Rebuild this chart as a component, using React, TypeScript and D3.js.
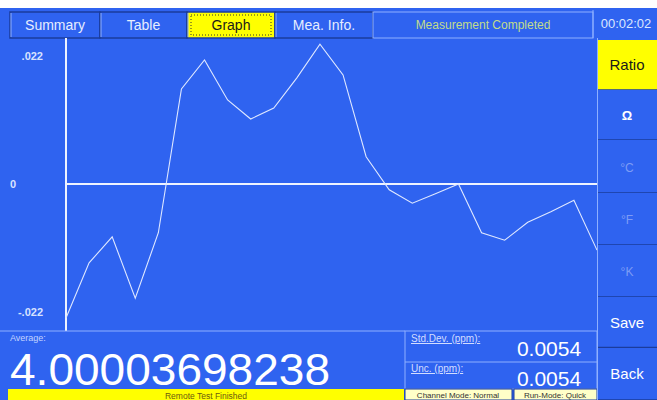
import React from 'react'
import * as d3 from 'd3'

// readings shown on the graph tab (ppm deviation, 24 samples)
const samples = [
  -0.0231, -0.0136, -0.0091, -0.0197, -0.0084, 0.0164, 0.0214, 0.0145,
  0.0112, 0.0131, 0.0183, 0.0241, 0.0188, 0.0047, -0.001, -0.0033,
  -0.0017, 0.0, -0.0084, -0.0097, -0.0066, -0.0048, -0.0028, -0.0114,
]
const tickValues = [0.022, 0, -0.022]
const tickLabels = ['.022', '0', '-.022']

const tabs = ['Summary', 'Table', 'Graph', 'Mea. Info.']
const tabEdges = [10, 100, 187, 275, 373]
const sideButtons = ['Ratio', 'Ω', '°C', '°F', '°K', 'Save', 'Back']
const sideEdges = [40, 90, 140, 193, 245, 297, 348, 400]
const sideEnabled = [true, true, false, false, false, true, true]

const averageText = '4.00003698238'
const stdDevText = '0.0054'
const uncText = '0.0054'

const BLUE = '#2f63f0'
const DARK = '#1b3c9c'
const LIGHT = '#8fb0ff'
const FONT = '"Liberation Sans", Arial, sans-serif'

const App = () => {
  const W = 657
  const H = 400
  const plot = { left: 66, right: 597, top: 39, bottom: 329 }

  const x = d3.scaleLinear().domain([0, samples.length - 1]).range([plot.left, plot.right])
  const y = d3.scaleLinear().domain([-0.025, 0.025]).range([plot.bottom, plot.top])
  const line = d3
    .line<number>()
    .x((_, i) => x(i))
    .y((d) => y(d))

  return (
    <svg
      width={W}
      height={H}
      style={{ position: 'absolute', left: 0, top: 0, display: 'block' }}
      fontFamily={FONT}
    >
      <rect x={0} y={0} width={W} height={H} fill="#ffffff" />
      <rect x={0} y={8} width={W} height={H - 8} fill={BLUE} />

      {/* top tab row */}
      {tabs.map((t, i) => {
        const x0 = tabEdges[i]
        const x1 = tabEdges[i + 1]
        const active = t === 'Graph'
        return (
          <g key={t}>
            <rect x={x0} y={12} width={x1 - x0} height={26} fill={active ? '#ffff00' : BLUE} stroke={DARK} strokeWidth={1.5} />
            <line x1={x0 + 1} x2={x0 + 1} y1={13} y2={37} stroke={LIGHT} strokeWidth={1} />
            {active && (
              <rect x={x0 + 4} y={15} width={x1 - x0 - 8} height={20} fill="none" stroke="#333" strokeWidth={1} strokeDasharray="1,2" />
            )}
            <text x={(x0 + x1) / 2} y={30} textAnchor="middle" fontSize={14} fill={active ? '#1a1a1a' : '#e6edff'}>
              {t}
            </text>
          </g>
        )
      })}
      <rect x={373} y={12} width={220} height={26} fill={BLUE} stroke={LIGHT} strokeWidth={1} />
      <text x={483} y={29} textAnchor="middle" fontSize={12} fill="#c2dc8a">
        Measurement Completed
      </text>
      <text x={626} y={28} textAnchor="middle" fontSize={13} fill="#dbe6ff">
        00:02:02
      </text>
      <line x1={593} x2={593} y1={10} y2={38} stroke={LIGHT} strokeWidth={1} />

      {/* graph */}
      <line x1={plot.left} x2={plot.left} y1={38} y2={331} stroke="#eef3ff" strokeWidth={2} />
      <line x1={plot.left} x2={plot.right} y1={y(0)} y2={y(0)} stroke="#eef3ff" strokeWidth={2} />
      {tickValues.map((v, i) => (
        <text
          key={i}
          x={v === 0 ? 10 : 43}
          y={y(v) + 4}
          textAnchor={v === 0 ? 'start' : 'end'}
          fontSize={11}
          fontWeight="bold"
          fill="#d8e2ff"
        >
          {tickLabels[i]}
        </text>
      ))}
      <path d={line(samples) || ''} fill="none" stroke="#dfe8ff" strokeWidth={1.1} />

      {/* average panel */}
      <line x1={0} x2={405} y1={331} y2={331} stroke={LIGHT} strokeWidth={1} />
      <text x={10} y={341} fontSize={9} fill="#c4d3ff">
        Average:
      </text>
      <text x={10} y={385} fontSize={44} fill="#ffffff" textLength={320} lengthAdjust="spacingAndGlyphs">
        {averageText}
      </text>
      <rect x={8} y={389} width={396} height={11} fill="#ffff00" />
      <text x={206} y={398.5} textAnchor="middle" fontSize={8.5} fill="#6b5a10">
        Remote Test Finished
      </text>

      {/* std dev / unc */}
      <rect x={405} y={331} width={192} height={58} fill={BLUE} stroke={LIGHT} strokeWidth={1} />
      <line x1={405} x2={597} y1={362} y2={362} stroke={LIGHT} strokeWidth={1} />
      <text x={411} y={342} fontSize={10} fill="#d3ddff" textDecoration="underline">
        Std.Dev. (ppm):
      </text>
      <text x={549} y={356} textAnchor="middle" fontSize={21} fill="#ffffff">
        {stdDevText}
      </text>
      <text x={411} y={372} fontSize={10} fill="#d3ddff" textDecoration="underline">
        Unc. (ppm):
      </text>
      <text x={549} y={386} textAnchor="middle" fontSize={21} fill="#ffffff">
        {uncText}
      </text>
      <rect x={405} y={389} width={107} height={11} fill="#ffffc8" stroke={DARK} strokeWidth={1} />
      <text x={458} y={398} textAnchor="middle" fontSize={8} fill="#333">
        Channel Mode: Normal
      </text>
      <rect x={514} y={389} width={83} height={11} fill="#ffffc8" stroke={DARK} strokeWidth={1} />
      <text x={555} y={398} textAnchor="middle" fontSize={8} fill="#333">
        Run-Mode: Quick
      </text>

      {/* side buttons */}
      <line x1={597.5} x2={597.5} y1={38} y2={400} stroke={LIGHT} strokeWidth={1} />
      {sideButtons.map((b, i) => {
        const y0 = sideEdges[i]
        const y1 = sideEdges[i + 1]
        const active = b === 'Ratio'
        const mid = (y0 + y1) / 2
        return (
          <g key={b}>
            <rect x={598} y={y0} width={59} height={y1 - y0} fill={active ? '#ffff00' : BLUE} />
            <line x1={598} x2={657} y1={y1} y2={y1} stroke={DARK} strokeWidth={i === 5 ? 2.5 : 1.5} />
            <line x1={598} x2={657} y1={y1 + 1.5} y2={y1 + 1.5} stroke={LIGHT} strokeWidth={0.8} />
            <text
              x={627}
              y={mid + 5}
              textAnchor="middle"
              fontSize={b.length === 1 ? 13 : b.startsWith('°') ? 12 : 15}
              fontWeight={b === 'Ω' ? 'bold' : 'normal'}
              fill={active ? '#1a1a1a' : sideEnabled[i] ? '#ffffff' : '#7d9cf5'}
            >
              {b}
            </text>
          </g>
        )
      })}
    </svg>
  )
}

export default App
